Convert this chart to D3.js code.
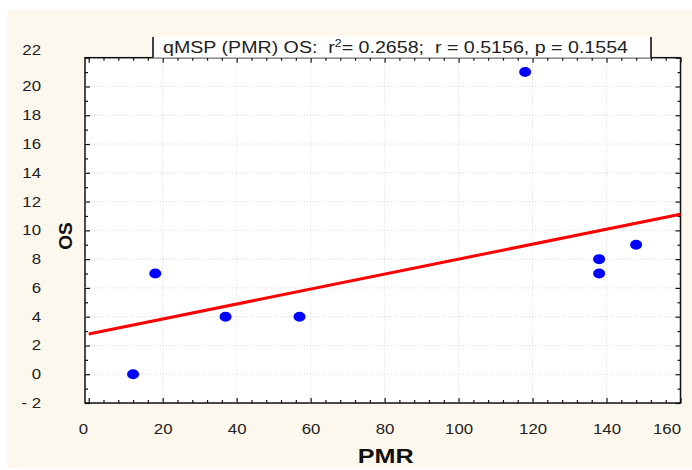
<!DOCTYPE html>
<html>
<head>
<meta charset="utf-8">
<title>qMSP (PMR) OS</title>
<style>
  body { margin: 0; background: #fff; }
  svg { display: block; font-family: "Liberation Sans", Arial, sans-serif; }
  .frame { fill: #fff; stroke: #111; stroke-width: 1.5; }
  .grid line { stroke: #d8d8d8; stroke-dasharray: 1, 2; }
  .axis path { display: none; }
  .axis line { stroke: #111; stroke-width: 1.2; }
  .axis text { fill: #222; font-size: 14px; }
  .label { font-weight: bold; fill: #111; }
  .title { white-space: pre; }
</style>
</head>
<body>
<div id="chart"></div>
<script src="https://cdnjs.cloudflare.com/ajax/libs/d3/7.8.5/d3.min.js"></script>
<script>
// values
var pmr = [12, 18, 37, 57, 118, 138, 138, 148];
var os  = [0, 7, 4, 4, 21, 7, 8, 9];
// fitted line as shown: OS = intercept + slope * PMR
var fitCoef = [2.8, 0.052];
var fitRange = [0, 160];
var xTicks = [0, 20, 40, 60, 80, 100, 120, 140, 160];
var yTicks = [-2, 0, 2, 4, 6, 8, 10, 12, 14, 16, 18, 20, 22];
var titleText = ["qMSP (PMR) OS:  r", "2", "= 0.2658;  r = 0.5156, p = 0.1554"];

var W = 692, H = 470;
var box = { left: 85, right: 680.5, top: 57.7, bottom: 403 };

var svg = d3.select("#chart").append("svg")
  .attr("width", W)
  .attr("height", H);

// cream page background
svg.append("rect")
  .attr("x", 7).attr("y", 10)
  .attr("width", W - 7).attr("height", H - 12)
  .attr("fill", "#fcf8ee");

var x = d3.scaleLinear().domain([-1, 160]).range([box.left, box.right]);
var y = d3.scaleLinear().domain([-2, 22]).range([box.bottom, box.top]);

svg.append("rect")
  .attr("class", "frame")
  .attr("x", box.left).attr("y", box.top)
  .attr("width", box.right - box.left)
  .attr("height", box.bottom - box.top);

// dotted grid
var grid = svg.append("g").attr("class", "grid");
grid.selectAll(".gx").data(xTicks.slice(1, -1)).enter().append("line")
  .attr("x1", function(d) { return x(d); }).attr("x2", function(d) { return x(d); })
  .attr("y1", box.top).attr("y2", box.bottom);
grid.selectAll(".gy").data(yTicks.slice(1, -1)).enter().append("line")
  .attr("x1", box.left).attr("x2", box.right)
  .attr("y1", function(d) { return y(d); }).attr("y2", function(d) { return y(d); });

var xMinor = d3.range(0, 161, 4).filter(function(d) { return d % 20 != 0; });
var yMinor = d3.range(-1, 22, 2);

function fmtY(d) { return d < 0 ? "- " + (-d) : d; }

// bottom
svg.append("g").attr("class", "axis")
  .attr("transform", "translate(0," + box.bottom + ")")
  .call(d3.axisBottom(x).tickValues(xTicks).tickSizeInner(-5).tickSizeOuter(0).tickPadding(21));
svg.append("g").attr("class", "axis")
  .attr("transform", "translate(0," + box.bottom + ")")
  .call(d3.axisBottom(x).tickValues(xMinor).tickSizeInner(-3).tickSizeOuter(0).tickFormat(""));
// top
svg.append("g").attr("class", "axis")
  .attr("transform", "translate(0," + box.top + ")")
  .call(d3.axisTop(x).tickValues(xTicks).tickSizeInner(-5).tickSizeOuter(0).tickFormat(""));
svg.append("g").attr("class", "axis")
  .attr("transform", "translate(0," + box.top + ")")
  .call(d3.axisTop(x).tickValues(xMinor).tickSizeInner(-3).tickSizeOuter(0).tickFormat(""));
// left
svg.append("g").attr("class", "axis")
  .attr("transform", "translate(" + box.left + ",0)")
  .call(d3.axisLeft(y).tickValues(yTicks).tickSizeInner(-5).tickSizeOuter(0).tickPadding(44).tickFormat(fmtY));
svg.append("g").attr("class", "axis")
  .attr("transform", "translate(" + box.left + ",0)")
  .call(d3.axisLeft(y).tickValues(yMinor).tickSizeInner(-3).tickSizeOuter(0).tickFormat(""));
// right
svg.append("g").attr("class", "axis")
  .attr("transform", "translate(" + box.right + ",0)")
  .call(d3.axisRight(y).tickValues(yTicks).tickSizeInner(-5).tickSizeOuter(0).tickFormat(""));
svg.append("g").attr("class", "axis")
  .attr("transform", "translate(" + box.right + ",0)")
  .call(d3.axisRight(y).tickValues(yMinor).tickSizeInner(-3).tickSizeOuter(0).tickFormat(""));

// the original's labels look a bit wide
svg.selectAll(".axis .tick text").each(function() {
  var len = this.getComputedTextLength();
  if (len > 0) d3.select(this).attr("textLength", len * 1.2).attr("lengthAdjust", "spacingAndGlyphs");
});

// nudge end labels like the original
svg.selectAll(".axis .tick text")
  .filter(function(d) { return d === 0 && this.getAttribute("dy") === "0.71em"; })
  .attr("text-anchor", "end").attr("dx", -1);
svg.selectAll(".axis .tick text")
  .filter(function(d) { return d === 160; })
  .attr("text-anchor", "end").attr("dx", 0);
svg.selectAll(".axis .tick text")
  .filter(function(d) { return d === 22 && this.getAttribute("dy") === "0.32em"; })
  .attr("dy", "-0.2em");

// regression line
svg.append("line")
  .attr("x1", x(fitRange[0])).attr("y1", y(fitCoef[0] + fitCoef[1] * fitRange[0]))
  .attr("x2", x(fitRange[1])).attr("y2", y(fitCoef[0] + fitCoef[1] * fitRange[1]))
  .attr("stroke", "#ff0000").attr("stroke-width", 3);

// points
svg.append("g").selectAll("ellipse")
  .data(pmr).enter().append("ellipse")
  .attr("cx", function(d) { return x(d); })
  .attr("cy", function(d, i) { return y(os[i]); })
  .attr("rx", 6).attr("ry", 5)
  .attr("fill", "#0000ff");

// title box
var tb = { x1: 153, x2: 651, y1: 37 };
svg.append("rect")
  .attr("x", tb.x1).attr("y", tb.y1)
  .attr("width", tb.x2 - tb.x1).attr("height", box.top - tb.y1)
  .attr("fill", "#fff");
[tb.x1, tb.x2].forEach(function(v) {
  svg.append("line")
    .attr("x1", v).attr("x2", v).attr("y1", tb.y1).attr("y2", box.top)
    .attr("stroke", "#111").attr("stroke-width", 1.6);
});
var title = svg.append("text")
  .attr("class", "title")
  .attr("x", 163).attr("y", 53)
  .attr("font-size", 16).attr("fill", "#222")
  .attr("textLength", 465).attr("lengthAdjust", "spacingAndGlyphs");
title.append("tspan").text(titleText[0]);
title.append("tspan").attr("dy", -6).attr("font-size", 10).text(titleText[1]);
title.append("tspan").attr("dy", 6).text(titleText[2]);

// axis titles
svg.append("text").attr("class", "label")
  .attr("x", (box.left + box.right) / 2 + 3).attr("y", 463)
  .attr("text-anchor", "middle").attr("font-size", 20)
  .attr("textLength", 56).attr("lengthAdjust", "spacingAndGlyphs")
  .text("PMR");
svg.append("text").attr("class", "label")
  .attr("transform", "translate(72,236) rotate(-90)")
  .attr("text-anchor", "middle").attr("font-size", 19)
  .text("OS");
</script>
</body>
</html>
